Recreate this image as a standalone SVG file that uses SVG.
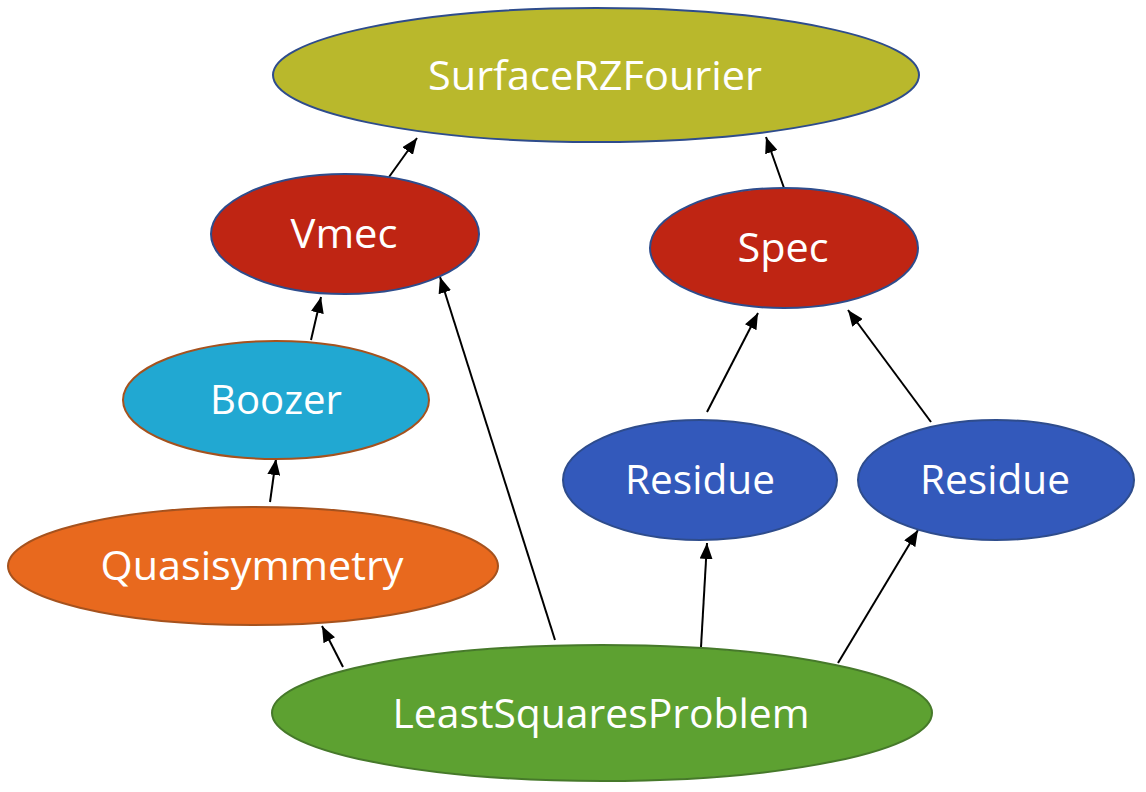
<svg xmlns="http://www.w3.org/2000/svg" width="1146" height="792" viewBox="0 0 1146 792">
<defs>
<marker id="ah" markerUnits="userSpaceOnUse" markerWidth="16" markerHeight="13" refX="16" refY="6.5" orient="auto">
<path d="M0,0 L16,6.5 L0,13 z" fill="#000"/>
</marker>
<style>
.lbl{font-family:"Open Sans","Noto Sans","Liberation Sans",sans-serif;font-size:40px;fill:#fff;text-anchor:middle}
.edge{stroke:#000;stroke-width:2;fill:none;marker-end:url(#ah)}
.bl{stroke:#2E4C8C;stroke-width:2}
.br{stroke:#A5521E;stroke-width:2}
.gr{stroke:#46792A;stroke-width:2}
</style>
</defs>
<rect width="1146" height="792" fill="#fff"/>
<g id="connectors">
<line class="edge" x1="389" y1="177" x2="417" y2="138"/>
<line class="edge" x1="784" y1="188" x2="766" y2="137"/>
<line class="edge" x1="311" y1="340" x2="321" y2="297"/>
<line class="edge" x1="270" y1="502" x2="276" y2="459"/>
<line class="edge" x1="343" y1="667" x2="322" y2="626"/>
<line class="edge" x1="555" y1="640" x2="440" y2="277"/>
<line class="edge" x1="701" y1="647" x2="707" y2="543"/>
<line class="edge" x1="838" y1="663" x2="918" y2="530"/>
<line class="edge" x1="707" y1="412" x2="758" y2="313"/>
<line class="edge" x1="931" y1="422" x2="848" y2="310"/>
</g>
<g id="SurfaceRZFourier">
<ellipse cx="596" cy="75" rx="323" ry="67" fill="#B9B82C" class="bl"/>
<text class="lbl" x="595" y="90" textLength="334" lengthAdjust="spacingAndGlyphs">SurfaceRZFourier</text>
</g>
<g id="Vmec">
<ellipse cx="345" cy="234" rx="134" ry="60" fill="#BF2513" class="bl"/>
<text class="lbl" x="344" y="248" textLength="107" lengthAdjust="spacingAndGlyphs">Vmec</text>
</g>
<g id="Spec">
<ellipse cx="784" cy="248" rx="134" ry="60" fill="#BF2513" class="bl"/>
<text class="lbl" x="783" y="262" textLength="91" lengthAdjust="spacingAndGlyphs">Spec</text>
</g>
<g id="Boozer">
<ellipse cx="276" cy="400" rx="153" ry="59" fill="#21A8D2" class="br"/>
<text class="lbl" x="276" y="414" textLength="132" lengthAdjust="spacingAndGlyphs">Boozer</text>
</g>
<g id="Quasisymmetry">
<ellipse cx="253" cy="566" rx="245" ry="59" fill="#E8691E" class="br"/>
<text class="lbl" x="252" y="580" textLength="303" lengthAdjust="spacingAndGlyphs">Quasisymmetry</text>
</g>
<g id="Residue1">
<ellipse cx="700" cy="480" rx="137" ry="60" fill="#3359BB" class="bl"/>
<text class="lbl" x="700" y="494" textLength="150" lengthAdjust="spacingAndGlyphs">Residue</text>
</g>
<g id="Residue2">
<ellipse cx="996" cy="480" rx="138" ry="60" fill="#3359BB" class="bl"/>
<text class="lbl" x="995" y="494" textLength="150" lengthAdjust="spacingAndGlyphs">Residue</text>
</g>
<g id="LeastSquaresProblem">
<ellipse cx="602" cy="713" rx="330" ry="68" fill="#5DA131" class="gr"/>
<text class="lbl" x="601" y="728" textLength="417" lengthAdjust="spacingAndGlyphs">LeastSquaresProblem</text>
</g>
</svg>
